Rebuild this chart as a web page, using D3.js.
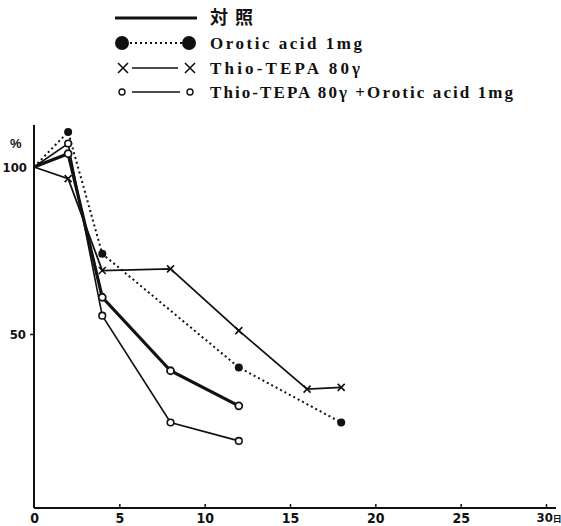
<!DOCTYPE html>
<html>
<head>
<meta charset="utf-8">
<script src="https://cdn.jsdelivr.net/npm/d3@7/dist/d3.min.js"></script>
<style>
  body { margin: 0; background: #fff; }
  svg { display: block; }
  .tick text { font-family: "Liberation Sans Narrow", "DejaVu Sans Condensed", sans-serif; font-weight: bold; fill: #111; }
  .legend text { font-family: "Liberation Serif", "DejaVu Serif", serif; font-weight: bold; font-size: 17px; fill: #111; }
  .legend text.ja { font-family: "Noto Sans CJK JP", sans-serif; font-size: 18px; font-weight: bold; }
</style>
</head>
<body>
<svg id="chart" width="561" height="526"></svg>
<script>
// Ratio (%) over days for four treatment groups
const xTicks = [0, 5, 10, 15, 20, 25, 30];
const yTicks = [50, 100];

const controlDays   = [0, 2, 4, 8, 12];
const controlValues = [100, 104, 61, 39, 28.5];

const oroticDays   = [0, 2, 4, 12, 18];
const oroticValues = [100, 110.5, 74, 40, 23.5];

const thioDays   = [0, 2, 4, 8, 12, 16, 18];
const thioValues = [100, 96.5, 69, 69.5, 51, 33.5, 34];

const comboDays   = [0, 2, 4, 8, 12];
const comboValues = [100, 107, 55.5, 23.5, 18];

const legendLabels = ["対照", "Orotic acid 1mg", "Thio-TEPA 80γ", "Thio-TEPA 80γ +Orotic acid 1mg"];

const svg = d3.select("#chart");
const ink = "#111";

const x = d3.scaleLinear().domain([0, 30]).range([34, 546]);
const y = d3.scaleLinear().domain([0, 100]).range([501, 167]);
const axisY = 508;

// Axes
const xAxis = d3.axisBottom(x).tickValues(xTicks)
  .tickSizeInner(-4).tickSizeOuter(0).tickPadding(5);
const gx = svg.append("g").attr("transform", `translate(0,${axisY})`).call(xAxis);
gx.select(".domain").attr("d", `M34,0H556`).attr("stroke", ink).attr("stroke-width", 2);
gx.selectAll(".tick line").attr("stroke", ink).attr("stroke-width", 1.5);
gx.selectAll(".tick text").attr("font-size", 14);
gx.selectAll(".tick").filter(d => d === 0).select("line").remove();
// last tick carries the unit (days)
const lastLabel = gx.selectAll(".tick").filter(d => d === 30).select("text")
  .attr("text-anchor", "start").attr("x", -10).attr("font-size", 13);
lastLabel.append("tspan").attr("font-size", 9).attr("font-family", "Noto Sans CJK JP, sans-serif").text("日");

const yAxis = d3.axisLeft(y).tickValues(yTicks).tickSizeInner(4).tickSizeOuter(0).tickPadding(4);
const gy = svg.append("g").attr("transform", "translate(34,0)").call(yAxis);
gy.select(".domain").attr("d", `M0,125V${axisY}`).attr("stroke", ink).attr("stroke-width", 2);
gy.selectAll(".tick line").attr("stroke", ink).attr("stroke-width", 1.5);
gy.selectAll(".tick text").attr("font-size", 13);
gy.selectAll(".tick").filter(d => d === 100).select("line").remove();
gy.selectAll(".tick").filter(d => d === 100).select("text").attr("x", -7);

svg.append("text").attr("x", 10).attr("y", 148)
  .attr("font-family", "Liberation Sans Narrow, sans-serif").attr("font-weight", "bold")
  .attr("font-size", 13).attr("fill", ink).text("%");

const line = d3.line().x(d => x(d[0])).y(d => y(d[1]));
const zip = (a, b) => a.map((d, i) => [d, b[i]]);

const control = zip(controlDays, controlValues);
const orotic = zip(oroticDays, oroticValues);
const thio = zip(thioDays, thioValues);
const combo = zip(comboDays, comboValues);

// Lines
svg.append("path").datum(combo).attr("d", line)
  .attr("fill", "none").attr("stroke", ink).attr("stroke-width", 1.6);
svg.append("path").datum(thio).attr("d", line)
  .attr("fill", "none").attr("stroke", ink).attr("stroke-width", 1.8);
svg.append("path").datum(orotic).attr("d", line)
  .attr("fill", "none").attr("stroke", ink).attr("stroke-width", 2)
  .attr("stroke-dasharray", "2,3");
svg.append("path").datum(control).attr("d", line)
  .attr("fill", "none").attr("stroke", ink).attr("stroke-width", 3.2);

// Markers
function cross(g, cx, cy, s) {
  g.append("path").attr("d", `M${cx - s},${cy - s}L${cx + s},${cy + s}M${cx - s},${cy + s}L${cx + s},${cy - s}`)
    .attr("stroke", ink).attr("stroke-width", 1.6).attr("fill", "none");
}
const marks = svg.append("g");
control.slice(1).forEach(d => marks.append("circle").attr("cx", x(d[0])).attr("cy", y(d[1])).attr("r", 3.5)
  .attr("fill", "#fff").attr("stroke", ink).attr("stroke-width", 1.8));
combo.slice(1).forEach(d => marks.append("circle").attr("cx", x(d[0])).attr("cy", y(d[1])).attr("r", 3.3)
  .attr("fill", "#fff").attr("stroke", ink).attr("stroke-width", 1.6));
orotic.slice(1).forEach(d => marks.append("circle").attr("cx", x(d[0])).attr("cy", y(d[1])).attr("r", 4)
  .attr("fill", ink));
thio.slice(1).forEach(d => cross(marks, x(d[0]), y(d[1]), 3.5));

// Legend
const lg = svg.append("g").attr("class", "legend");
const rowsY = [18, 43, 68, 92];
const textX = 210;
const textWidths = [43, 152, 150, 303];
lg.append("line").attr("x1", 115).attr("x2", 197).attr("y1", rowsY[0]).attr("y2", rowsY[0])
  .attr("stroke", ink).attr("stroke-width", 3.2);
lg.append("line").attr("x1", 130).attr("x2", 182).attr("y1", rowsY[1]).attr("y2", rowsY[1])
  .attr("stroke", ink).attr("stroke-width", 2).attr("stroke-dasharray", "2,3");
lg.append("circle").attr("cx", 122).attr("cy", rowsY[1]).attr("r", 7).attr("fill", ink);
lg.append("circle").attr("cx", 189).attr("cy", rowsY[1]).attr("r", 7).attr("fill", ink);
lg.append("line").attr("x1", 132).attr("x2", 178).attr("y1", rowsY[2]).attr("y2", rowsY[2])
  .attr("stroke", ink).attr("stroke-width", 1.5);
cross(lg, 123, rowsY[2], 5);
cross(lg, 190, rowsY[2], 5);
lg.append("line").attr("x1", 132).attr("x2", 180).attr("y1", rowsY[3]).attr("y2", rowsY[3])
  .attr("stroke", ink).attr("stroke-width", 1.5);
lg.append("circle").attr("cx", 122).attr("cy", rowsY[3]).attr("r", 3).attr("fill", "#fff")
  .attr("stroke", ink).attr("stroke-width", 1.4);
lg.append("circle").attr("cx", 190).attr("cy", rowsY[3]).attr("r", 3).attr("fill", "#fff")
  .attr("stroke", ink).attr("stroke-width", 1.4);
legendLabels.forEach((t, i) => {
  lg.append("text").attr("class", i === 0 ? "ja" : null)
    .attr("x", textX).attr("y", rowsY[i]).attr("dy", "0.35em")
    .attr("textLength", textWidths[i]).attr("lengthAdjust", "spacing").text(t);
});
</script>
</body>
</html>
